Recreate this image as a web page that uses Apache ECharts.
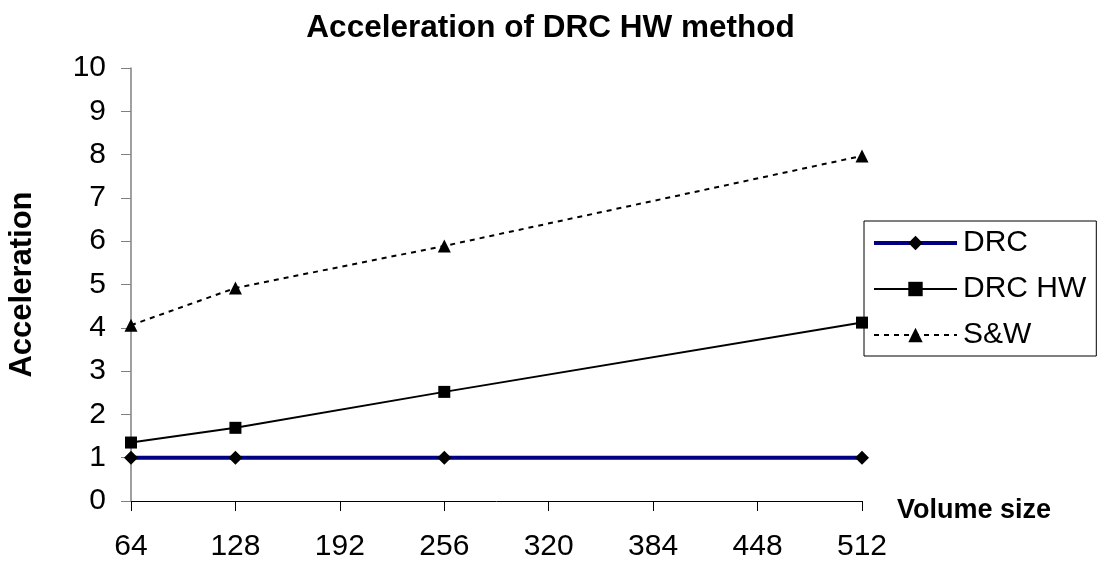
<!DOCTYPE html>
<html>
<head>
<meta charset="utf-8">
<script src="https://cdn.jsdelivr.net/npm/echarts@6/dist/echarts.min.js"></script>
<style>
html,body{margin:0;padding:0;background:#fff;}
#chart{width:1101px;height:565px;}
</style>
</head>
<body>
<div id="chart"></div>
<script>
const volumeSizes = [64, 128, 256, 512];
const drc = [1, 1, 1, 1];
const drcHW = [1.35, 1.69, 2.52, 4.12];
const sw = [4.06, 4.92, 5.89, 7.97];
const seriesNames = ['DRC', 'DRC HW', 'S&W'];
const titleText = 'Acceleration of DRC HW method';
const xName = 'Volume size';
const yName = 'Acceleration';

const FONT = '"Liberation Sans", Arial, sans-serif';
const pairs = vals => volumeSizes.map((x, i) => [x, vals[i]]);

const chart = echarts.init(document.getElementById('chart'), null, {renderer: 'canvas'});
chart.setOption({
  animation: false,
  backgroundColor: '#fff',
  title: {
    text: titleText,
    left: 'center',
    top: 7,
    textStyle: {fontFamily: FONT, fontSize: 31.5, fontWeight: 'bold', color: '#000'}
  },
  grid: {left: 131, right: 239, top: 68, bottom: 64, containLabel: false, outerBoundsMode: 'none'},
  legend: {
    orient: 'vertical',
    left: 864,
    top: 221,
    padding: [7, 10, 6, 8],
    itemGap: 16,
    itemWidth: 83,
    itemHeight: 18,
    borderColor: '#000',
    borderWidth: 1,
    backgroundColor: '#fff',
    textStyle: {fontFamily: FONT, fontSize: 30, color: '#000', lineHeight: 30, padding: [0, 0, 0, 1]},
    data: [
      {name: seriesNames[0], lineStyle: {width: 4, color: '#000080'}},
      {name: seriesNames[1], lineStyle: {width: 2, color: '#000'}},
      {name: seriesNames[2], lineStyle: {width: 2, color: '#000', type: [5, 5]}}
    ]
  },
  xAxis: {
    type: 'value',
    min: 64,
    max: 512,
    interval: 64,
    name: xName,
    nameLocation: 'end',
    nameGap: 35,
    nameTextStyle: {fontFamily: FONT, fontSize: 27, fontWeight: 'bold', color: '#000', verticalAlign: 'top', lineHeight: 20},
    axisLine: {onZero: false, lineStyle: {color: '#000', width: 1}},
    axisTick: {show: true, inside: false, length: 10, lineStyle: {color: '#000'}},
    axisLabel: {margin: 31, fontFamily: FONT, fontSize: 30, color: '#000'},
    splitLine: {show: false}
  },
  yAxis: {
    type: 'value',
    min: 0,
    max: 10,
    interval: 1,
    name: yName,
    nameLocation: 'middle',
    nameRotate: 90,
    nameGap: 93,
    nameTextStyle: {fontFamily: FONT, fontSize: 31, fontWeight: 'bold', color: '#000'},
    axisLine: {show: true, onZero: false, lineStyle: {color: '#808080', width: 1.5}},
    axisTick: {show: true, inside: false, length: 10, lineStyle: {color: '#808080'}},
    axisLabel: {margin: 25, fontFamily: FONT, fontSize: 30, color: '#000'},
    splitLine: {show: false}
  },
  series: [
    {
      name: seriesNames[0],
      type: 'line',
      data: pairs(drc),
      symbol: 'diamond',
      symbolSize: 14,
      showAllSymbol: true,
      lineStyle: {color: '#000080', width: 4},
      itemStyle: {color: '#000', borderWidth: 0},
      z: 3
    },
    {
      name: seriesNames[1],
      type: 'line',
      data: pairs(drcHW),
      symbol: 'rect',
      symbolSize: 12,
      lineStyle: {color: '#000', width: 2},
      itemStyle: {color: '#000', borderWidth: 0},
      z: 4
    },
    {
      name: seriesNames[2],
      type: 'line',
      data: pairs(sw),
      symbol: 'triangle',
      symbolSize: 13,
      lineStyle: {color: '#000', width: 2, type: [5, 5]},
      itemStyle: {color: '#000', borderWidth: 0},
      z: 5
    }
  ]
});
</script>
</body>
</html>
